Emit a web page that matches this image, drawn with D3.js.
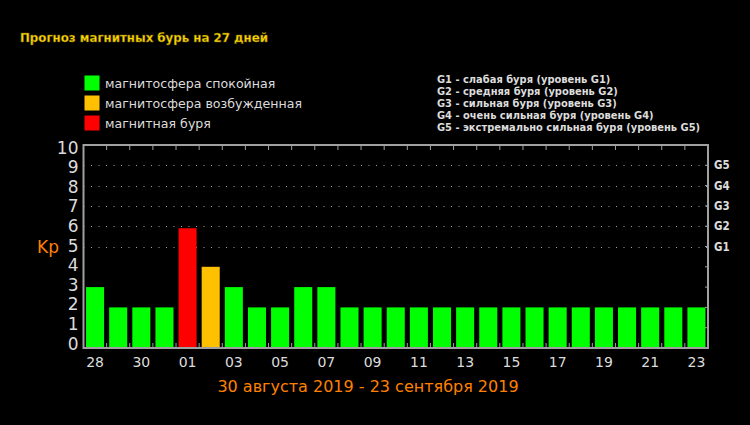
<!DOCTYPE html>
<html><head><meta charset="utf-8">
<script src="https://cdn.jsdelivr.net/npm/d3@7"></script>
<style>html,body{margin:0;padding:0;background:#000;}svg{display:block;}</style>
</head><body>
<script>
const days = ["28","29","30","31","01","02","03","04","05","06","07","08","09","10","11","12","13","14","15","16","17","18","19","20","21","22","23"];
const kp = [3,2,2,2,5.9,4,3,2,2,3,3,2,2,2,2,2,2,2,2,2,2,2,2,2,2,2,2];
const levels = ["quiet","quiet","quiet","quiet","storm","excited","quiet","quiet","quiet","quiet","quiet","quiet","quiet","quiet","quiet","quiet","quiet","quiet","quiet","quiet","quiet","quiet","quiet","quiet","quiet","quiet","quiet"];
const legendItems = [["quiet","магнитосфера спокойная"],["excited","магнитосфера возбужденная"],["storm","магнитная буря"]];
const gLabels = ["G1","G2","G3","G4","G5"];
const gValues = [5,6,7,8,9];
const gLegend = ["G1 - слабая буря (уровень G1)","G2 - средняя буря (уровень G2)","G3 - сильная буря (уровень G3)","G4 - очень сильная буря (уровень G4)","G5 - экстремально сильная буря (уровень G5)"];
const title = "Прогноз магнитных бурь на 27 дней";
const subtitle = "30 августа 2019 - 23 сентября 2019";
const colors = {quiet:"#00ff00", excited:"#ffc000", storm:"#ff0000"};

const W=750,H=425;
const m={left:83.5,right:708,top:145,bottom:348};
const svg=d3.select("body").append("svg").attr("width",W).attr("height",H).style("background","#000");
svg.append("rect").attr("width",W).attr("height",H).attr("fill","#000");

const x=d3.scaleBand().domain(d3.range(days.length)).range([m.left,m.right]).paddingInner(0.22).paddingOuter(0.11);
const y=d3.scaleLinear().domain([0,10]).range([m.bottom,m.top]);
const grey="#a0a0a0";
const textC="#dcdcdc";

// title
svg.append("text").attr("x",20).attr("y",42).text(title)
  .attr("font-family","DejaVu Sans").attr("font-weight","bold").attr("font-size",11.8)
  .attr("fill","#ffd800").attr("stroke","#6b5a00").attr("stroke-width",0.4);

// legend
const lg=svg.append("g");
legendItems.forEach((d,i)=>{
  lg.append("rect").attr("x",84.5).attr("y",75.5+i*20).attr("width",15).attr("height",15).attr("fill",colors[d[0]]);
  lg.append("text").attr("x",105).attr("y",88+i*20).text(d[1]).attr("font-family","DejaVu Sans").attr("font-size",12.6).attr("fill",textC);
});
gLegend.forEach((t,i)=>{
  svg.append("text").attr("x",437).attr("y",83+i*12).text(t).attr("font-family","DejaVu Sans Condensed, DejaVu Sans").attr("font-weight","bold").attr("font-size",11).attr("fill",textC);
});

// dotted grid lines
svg.append("g").selectAll("line").data(gValues).join("line")
  .attr("x1",m.left).attr("x2",m.right).attr("y1",d=>Math.round(y(d))+0.5).attr("y2",d=>Math.round(y(d))+0.5)
  .attr("stroke",grey).attr("stroke-width",1).attr("stroke-dasharray","1,6.5");

// bars
svg.append("g").selectAll("rect").data(kp).join("rect")
  .attr("x",(d,i)=>x(i)).attr("width",x.bandwidth())
  .attr("y",d=>y(d)).attr("height",d=>y(0)-y(d))
  .attr("fill",(d,i)=>colors[levels[i]]);

// frame
svg.append("rect").attr("x",m.left).attr("y",m.top).attr("width",m.right-m.left).attr("height",m.bottom-m.top)
  .attr("fill","none").attr("stroke",grey).attr("stroke-width",2);

// band boundary ticks
const step=x.step();
const bounds=d3.range(1,days.length).map(i=>m.left+i*step);
svg.append("g").selectAll("line").data(bounds).join("line")
  .attr("x1",d=>d).attr("x2",d=>d).attr("y1",m.bottom).attr("y2",m.bottom-5).attr("stroke",grey);
svg.append("g").selectAll("line").data(bounds).join("line")
  .attr("x1",d=>d).attr("x2",d=>d).attr("y1",m.top).attr("y2",m.top+5).attr("stroke",grey);

// left y ticks
const yl=d3.axisLeft(y).tickValues(d3.range(0,11)).tickSize(0).tickPadding(5);
const gy=svg.append("g").attr("transform",`translate(${m.left},0)`).call(yl);
gy.select(".domain").remove();
gy.selectAll("text").attr("font-family","DejaVu Sans").attr("font-size",17).attr("fill",textC)
  .attr("dy",d=>(0.32-(0.25-0.04*d))+"em");
// inner small ticks on right
svg.append("g").selectAll("line").data(d3.range(1,10)).join("line")
  .attr("x1",m.right).attr("x2",m.right-3).attr("y1",d=>y(d)).attr("y2",d=>y(d)).attr("stroke",grey);

// right G labels
const yr=d3.axisRight(y).tickValues(gValues).tickFormat((d,i)=>gLabels[i]).tickSize(0).tickPadding(6);
const gr=svg.append("g").attr("transform",`translate(${m.right},0)`).call(yr);
gr.select(".domain").remove();
gr.selectAll("text").attr("font-family","DejaVu Sans Condensed, DejaVu Sans").attr("font-weight","bold").attr("font-size",11.5).attr("fill",textC);

// x axis labels
const xa=d3.axisBottom(x).tickValues(d3.range(0,days.length,2)).tickFormat(i=>days[i]).tickSize(0).tickPadding(9);
const gx=svg.append("g").attr("transform",`translate(0,${m.bottom})`).call(xa);
gx.select(".domain").remove();
gx.selectAll("text").attr("font-family","DejaVu Sans").attr("font-size",14).attr("fill",textC);

// Kp label
svg.append("text").attr("x",37).attr("y",253).text("Kp").attr("font-family","DejaVu Sans").attr("font-size",17).attr("fill","#ff8000");
// subtitle
svg.append("text").attr("x",368).attr("y",392).attr("text-anchor","middle").text(subtitle).attr("font-family","DejaVu Sans").attr("font-size",16).attr("fill","#ff8000");
</script>
</body></html>
